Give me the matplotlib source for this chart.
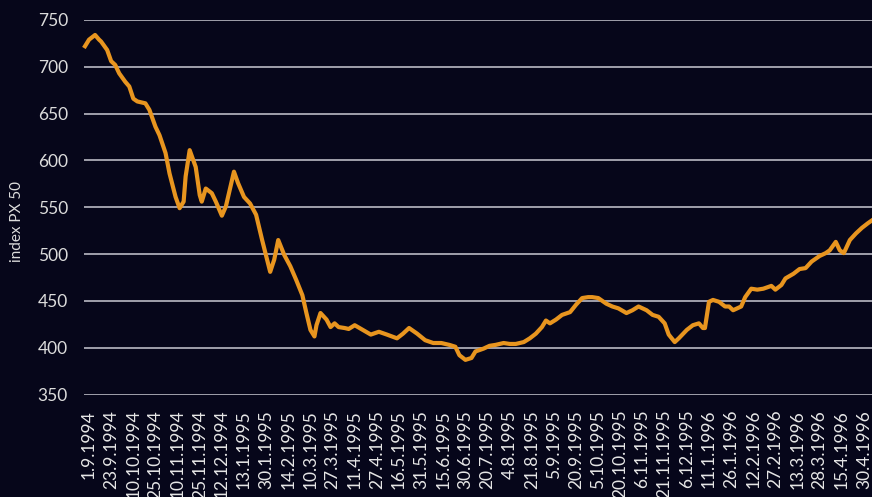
import numpy as np
import matplotlib
matplotlib.use("Agg")
import matplotlib.pyplot as plt

# trading session number (counted from 1.9.1994) and PX 50 close
session = [-2, 0, 3, 5, 6, 9, 11, 13, 15, 18, 20, 22, 24, 28, 30, 33, 35, 38, 40, 43,
           45, 47, 48, 50, 53, 55, 56, 58, 61, 63, 66, 68, 72, 74, 77, 80, 83, 86, 90, 92,
           94, 97, 100, 103, 106, 108, 110, 112, 113, 115, 118, 120, 122, 124, 127, 129,
           132, 136, 140, 144, 148, 153, 156, 159, 163, 167, 171, 175, 179, 182, 184, 187,
           190, 192, 196, 199, 202, 206, 209, 212, 216, 219, 222, 225, 227, 229, 232, 235,
           239, 242, 245, 248, 250, 253, 257, 260, 263, 267, 270, 273, 277, 280, 283, 286,
           288, 291, 293, 297, 300, 303, 305, 306, 308, 310, 313, 316, 318, 320, 324, 326,
           329, 332, 335, 339, 341, 344, 346, 350, 353, 356, 359, 363, 366, 368, 371, 373,
           375, 378, 381, 384, 387, 389]
px50 = [722, 729, 734, 729, 727, 718, 706, 702, 693, 684, 679, 666, 663, 661, 654, 636,
        627, 608, 586, 561, 549, 556, 583, 611, 593, 563, 556, 570, 565, 556, 541, 551,
        588, 576, 561, 554, 542, 515, 481, 494, 515, 499, 487, 472, 456, 437, 419, 412,
        424, 437, 430, 422, 426, 422, 421, 420, 424, 419, 414, 417, 414, 410, 415, 421,
        415, 408, 405, 405, 403, 401, 392, 387, 389, 396, 399, 402, 403, 405, 404, 404,
        406, 410, 415, 422, 429, 426, 430, 435, 438, 446, 453, 454, 454, 453, 447, 444,
        442, 437, 440, 444, 440, 435, 433, 426, 414, 406, 410, 419, 424, 426, 421, 421,
        449, 451, 449, 444, 444, 440, 444, 454, 463, 462, 463, 466, 462, 467, 474, 479,
        484, 485, 492, 498, 501, 504, 513, 504, 501, 515, 522, 528, 533, 536]

date_labels = ["1.9.1994", "23.9.1994", "10.10.1994", "25.10.1994", "10.11.1994",
               "25.11.1994", "12.12.1994", "13.1.1995", "30.1.1995", "14.2.1995",
               "10.3.1995", "27.3.1995", "11.4.1995", "27.4.1995", "16.5.1995",
               "31.5.1995", "15.6.1995", "30.6.1995", "20.7.1995", "4.8.1995",
               "21.8.1995", "5.9.1995", "20.9.1995", "5.10.1995", "20.10.1995",
               "6.11.1995", "21.11.1995", "6.12.1995", "11.1.1996", "26.1.1996",
               "12.2.1996", "27.2.1996", "13.3.1996", "28.3.1996", "15.4.1996",
               "30.4.1996"]
label_step = 11
y_ticks = [350, 400, 450, 500, 550, 600, 650, 700, 750]

bg = "#06061a"
plt.rcParams["font.family"] = ["Lato", "DejaVu Sans"]

fig = plt.figure(figsize=(8.72, 4.97), dpi=100, facecolor=bg)
ax = fig.add_axes([84 / 872, 1 - 394.5 / 497, 788 / 872, 374.5 / 497], facecolor=bg)

for v in y_ticks:
    ax.axhline(v, color="#c9c9d2", lw=1.1, zorder=1)

ax.plot(session, px50, color="#e8951f", lw=3.0, solid_joinstyle="round", zorder=3,
        clip_on=False)

ax.set_ylim(350, 750)
ax.set_xlim(-2.5, 389)
ax.set_yticks(y_ticks)
ax.set_yticklabels([str(v) for v in y_ticks])
ax.set_xticks(np.arange(len(date_labels)) * label_step)
ax.set_xticklabels(date_labels, rotation=90, va="top", ha="center")

ax.tick_params(axis="y", length=0, pad=11.5, labelsize=12.5, labelcolor="#dcdcdc")
ax.tick_params(axis="x", length=0, pad=11, labelsize=12.5, labelcolor="#e6e6e6")
for sp in ax.spines.values():
    sp.set_visible(False)

fig.text(17 / 872, 1 - 222 / 497, "index PX 50", rotation=90, ha="center", va="center",
         fontsize=11, color="#dcdcdc")

fig.savefig("out.png", dpi=100, facecolor=bg)
